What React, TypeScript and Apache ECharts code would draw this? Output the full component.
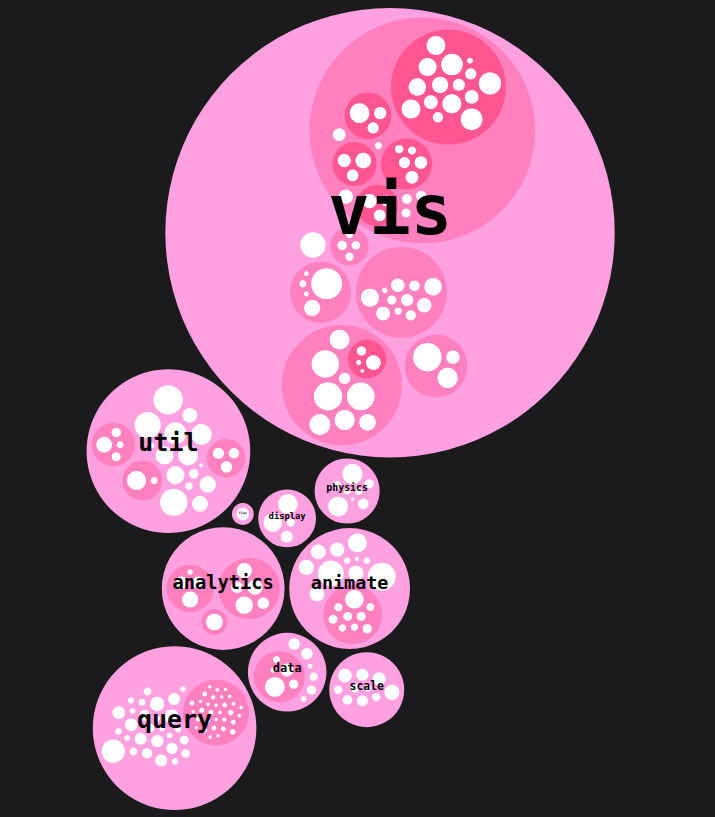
import React, { useEffect, useRef } from "react";
import * as echarts from "echarts";

type Item = [string, number | Item[]];

// ---------- data (flare hierarchy, in source order) ----------
const analyticsCluster: Item[] = [["AgglomerativeCluster", 3938], ["CommunityStructure", 3812], ["HierarchicalCluster", 6714], ["MergeEdge", 743]];
const analyticsGraph: Item[] = [["BetweennessCentrality", 3534], ["LinkDistance", 5731], ["MaxFlowMinCut", 7840], ["ShortestPaths", 5914], ["SpanningTree", 3416]];
const analyticsOptimization: Item[] = [["AspectRatioBanker", 7074]];
const analytics: Item[] = [["cluster", analyticsCluster], ["graph", analyticsGraph], ["optimization", analyticsOptimization]];

const animateInterpolate: Item[] = [["ArrayInterpolator", 1983], ["ColorInterpolator", 2047], ["DateInterpolator", 1375], ["Interpolator", 8746], ["MatrixInterpolator", 2202], ["NumberInterpolator", 1382], ["ObjectInterpolator", 1629], ["PointInterpolator", 1675], ["RectangleInterpolator", 2042]];
const animate: Item[] = [["Easing", 17010], ["FunctionSequence", 5842], ["interpolate", animateInterpolate], ["ISchedulable", 1041], ["Parallel", 5176], ["Pause", 449], ["Scheduler", 5593], ["Sequence", 5534], ["Transition", 9201], ["Transitioner", 19975], ["TransitionEvent", 1116], ["Tween", 6006]];

const dataConverters: Item[] = [["Converters", 721], ["DelimitedTextConverter", 4294], ["GraphMLConverter", 9800], ["IDataConverter", 1314], ["JSONConverter", 2220]];
const data: Item[] = [["converters", dataConverters], ["DataField", 1759], ["DataSchema", 2165], ["DataSet", 586], ["DataSource", 3331], ["DataTable", 772], ["DataUtil", 3322]];

const display: Item[] = [["DirtySprite", 8833], ["LineSprite", 1732], ["RectSprite", 3623], ["TextSprite", 10066]];
const flex: Item[] = [["FlareVis", 4116]];
const physics: Item[] = [["DragForce", 1082], ["GravityForce", 1336], ["IForce", 319], ["NBodyForce", 10498], ["Particle", 2822], ["Simulation", 9983], ["Spring", 2213], ["SpringForce", 1681]];

const queryMethods: Item[] = [["add", 593], ["and", 330], ["average", 287], ["count", 277], ["distinct", 292], ["div", 595], ["eq", 594], ["fn", 460], ["gt", 603], ["gte", 625], ["iff", 748], ["isa", 461], ["lt", 597], ["lte", 619], ["max", 283], ["min", 283], ["mod", 591], ["mul", 603], ["neq", 599], ["not", 386], ["or", 323], ["orderby", 307], ["range", 772], ["select", 296], ["stddev", 363], ["sub", 600], ["sum", 280], ["update", 307], ["variance", 335], ["where", 299], ["xor", 354], ["_", 264]];
const query: Item[] = [["AggregateExpression", 1616], ["And", 1027], ["Arithmetic", 3891], ["Average", 891], ["BinaryExpression", 2893], ["Comparison", 5103], ["CompositeExpression", 3677], ["Count", 781], ["DateUtil", 4141], ["Distinct", 933], ["Expression", 5130], ["ExpressionIterator", 3617], ["Fn", 3240], ["If", 2732], ["IsA", 2039], ["Literal", 1214], ["Match", 3748], ["Maximum", 843], ["methods", queryMethods], ["Minimum", 843], ["Not", 1554], ["Or", 970], ["Query", 13896], ["Range", 1594], ["StringUtil", 4130], ["Sum", 791], ["Variable", 1124], ["Variance", 1876], ["Xor", 1101]];

const scale: Item[] = [["IScaleMap", 2105], ["LinearScale", 1316], ["LogScale", 3151], ["OrdinalScale", 3770], ["QuantileScale", 2435], ["QuantitativeScale", 4839], ["RootScale", 1756], ["Scale", 4268], ["ScaleType", 1821], ["TimeScale", 5833]];

const utilHeap: Item[] = [["FibonacciHeap", 9354], ["HeapNode", 1233]];
const utilMath: Item[] = [["DenseMatrix", 3165], ["IMatrix", 2815], ["SparseMatrix", 3366]];
const utilPalette: Item[] = [["ColorPalette", 6367], ["Palette", 1229], ["ShapePalette", 2059], ["SizePalette", 2291]];
const util: Item[] = [["Arrays", 8258], ["Colors", 10001], ["Dates", 8217], ["Displays", 12555], ["Filter", 2324], ["Geometry", 10993], ["heap", utilHeap], ["IEvaluable", 335], ["IPredicate", 383], ["IValueProxy", 874], ["math", utilMath], ["Maths", 17705], ["Orientation", 1486], ["palette", utilPalette], ["Property", 5559], ["Shapes", 19118], ["Sort", 6887], ["Stats", 6557], ["Strings", 22026]];

const visAxis: Item[] = [["Axes", 1302], ["Axis", 24593], ["AxisGridLine", 652], ["AxisLabel", 636], ["CartesianAxes", 6703]];
const visControls: Item[] = [["AnchorControl", 2138], ["ClickControl", 3824], ["Control", 1353], ["ControlList", 4665], ["DragControl", 2649], ["ExpandControl", 2832], ["HoverControl", 4896], ["IControl", 763], ["PanZoomControl", 5222], ["SelectionControl", 7862], ["TooltipControl", 8435]];
const visDataRender: Item[] = [["ArrowType", 698], ["EdgeRenderer", 5569], ["IRenderer", 353], ["ShapeRenderer", 2247]];
const visData: Item[] = [["Data", 20544], ["DataList", 19788], ["DataSprite", 10349], ["EdgeSprite", 3301], ["NodeSprite", 19382], ["render", visDataRender], ["ScaleBinding", 11275], ["Tree", 7147], ["TreeBuilder", 9930]];
const visEvents: Item[] = [["DataEvent", 2313], ["SelectionEvent", 1880], ["TooltipEvent", 1701], ["VisualizationEvent", 1117]];
const visLegend: Item[] = [["Legend", 20859], ["LegendItem", 4614], ["LegendRange", 10530]];
const opDistortion: Item[] = [["BifocalDistortion", 4461], ["Distortion", 6314], ["FisheyeDistortion", 3444]];
const opEncoder: Item[] = [["ColorEncoder", 3179], ["Encoder", 4060], ["PropertyEncoder", 4138], ["ShapeEncoder", 1690], ["SizeEncoder", 1830]];
const opFilter: Item[] = [["FisheyeTreeFilter", 5219], ["GraphDistanceFilter", 3165], ["VisibilityFilter", 3509]];
const opLabel: Item[] = [["Labeler", 9956], ["RadialLabeler", 3899], ["StackedAreaLabeler", 3202]];
const opLayout: Item[] = [["AxisLayout", 6725], ["BundledEdgeRouter", 3727], ["CircleLayout", 9317], ["CirclePackingLayout", 12003], ["DendrogramLayout", 4853], ["ForceDirectedLayout", 8411], ["IcicleTreeLayout", 4864], ["IndentedTreeLayout", 3174], ["Layout", 7881], ["NodeLinkTreeLayout", 12870], ["PieLayout", 2728], ["RadialTreeLayout", 12348], ["RandomLayout", 870], ["StackedAreaLayout", 9121], ["TreeMapLayout", 9191]];
const visOperator: Item[] = [["distortion", opDistortion], ["encoder", opEncoder], ["filter", opFilter], ["IOperator", 1286], ["label", opLabel], ["layout", opLayout], ["Operator", 2490], ["OperatorList", 5248], ["OperatorSequence", 4190], ["OperatorSwitch", 2581], ["SortOperator", 2023]];
const vis: Item[] = [["axis", visAxis], ["controls", visControls], ["data", visData], ["events", visEvents], ["legend", visLegend], ["operator", visOperator], ["Visualization", 16540]];

const flare: Item[] = [["analytics", analytics], ["animate", animate], ["data", data], ["display", display], ["flex", flex], ["physics", physics], ["query", query], ["scale", scale], ["util", util], ["vis", vis]];

// ---------- styling / layout parameters ----------
const BG = "#1b1b1d";
const FILL_BY_DEPTH = [BG, "#ffa0e0", "#ff80bf", "#ff5590"];
const LEAF_FILL = "#ffffff";
const PACK_SIZE = 856;
const PADDING = 8;
const ROOT_CX = 310.8;
const ROOT_CY = 414.9;
const LABEL_RATIO = 0.305;

// ---------- circle packing (front-chain algorithm) ----------
interface PNode {
  name: string; value: number; depth: number;
  children: PNode[] | null; parent: PNode | null;
  x: number; y: number; r: number;
}

function build(name: string, content: number | Item[], depth: number, parent: PNode | null): PNode {
  const node: PNode = { name, value: 0, depth, children: null, parent, x: 0, y: 0, r: 0 };
  if (typeof content === "number") node.value = content;
  else {
    node.children = content.map(([n, c]) => build(n, c, depth + 1, node));
    node.value = node.children.reduce((s, c) => s + c.value, 0);
  }
  return node;
}
function eachBefore(n: PNode, f: (n: PNode) => void) { f(n); if (n.children) n.children.forEach((c) => eachBefore(c, f)); }
function eachAfter(n: PNode, f: (n: PNode) => void) { if (n.children) n.children.forEach((c) => eachAfter(c, f)); f(n); }

function place(b: any, a: any, c: any) {
  const dx = b.x - a.x, dy = b.y - a.y, d2 = dx * dx + dy * dy;
  let x, y, a2, b2;
  if (d2) {
    a2 = a.r + c.r; a2 *= a2;
    b2 = b.r + c.r; b2 *= b2;
    if (a2 > b2) {
      x = (d2 + b2 - a2) / (2 * d2);
      y = Math.sqrt(Math.max(0, b2 / d2 - x * x));
      c.x = b.x - x * dx - y * dy;
      c.y = b.y - x * dy + y * dx;
    } else {
      x = (d2 + a2 - b2) / (2 * d2);
      y = Math.sqrt(Math.max(0, a2 / d2 - x * x));
      c.x = a.x + x * dx - y * dy;
      c.y = a.y + x * dy + y * dx;
    }
  } else { c.x = a.x + c.r; c.y = a.y; }
}
function intersects(a: any, b: any) {
  const dr = a.r + b.r - 1e-6, dx = b.x - a.x, dy = b.y - a.y;
  return dr > 0 && dr * dr > dx * dx + dy * dy;
}
function score(node: any) {
  const a = node._, b = node.next._, ab = a.r + b.r;
  const dx = (a.x * b.r + b.x * a.r) / ab, dy = (a.y * b.r + b.y * a.r) / ab;
  return dx * dx + dy * dy;
}
function mk(c: any): any { return { _: c, next: null, previous: null }; }
function enclosesNot(a: any, b: any) { const dr = a.r - b.r, dx = b.x - a.x, dy = b.y - a.y; return dr < 0 || dr * dr < dx * dx + dy * dy; }
function enclosesWeak(a: any, b: any) { const dr = a.r - b.r + Math.max(a.r, b.r, 1) * 1e-9, dx = b.x - a.x, dy = b.y - a.y; return dr > 0 && dr * dr > dx * dx + dy * dy; }
function enclosesWeakAll(a: any, B: any[]) { for (let i = 0; i < B.length; ++i) if (!enclosesWeak(a, B[i])) return false; return true; }
function basis2(a: any, b: any) {
  const x21 = b.x - a.x, y21 = b.y - a.y, r21 = b.r - a.r, l = Math.sqrt(x21 * x21 + y21 * y21);
  return { x: (a.x + b.x + (x21 / l) * r21) / 2, y: (a.y + b.y + (y21 / l) * r21) / 2, r: (l + a.r + b.r) / 2 };
}
function basis3(a: any, b: any, c: any) {
  const x1 = a.x, y1 = a.y, r1 = a.r, x2 = b.x, y2 = b.y, r2 = b.r, x3 = c.x, y3 = c.y, r3 = c.r;
  const a2 = x1 - x2, a3 = x1 - x3, b2 = y1 - y2, b3 = y1 - y3, c2 = r2 - r1, c3 = r3 - r1;
  const d1 = x1 * x1 + y1 * y1 - r1 * r1, d2 = d1 - x2 * x2 - y2 * y2 + r2 * r2, d3 = d1 - x3 * x3 - y3 * y3 + r3 * r3;
  const ab = a3 * b2 - a2 * b3;
  const xa = (b2 * d3 - b3 * d2) / (ab * 2) - x1, xb = (b3 * c2 - b2 * c3) / ab;
  const ya = (a3 * d2 - a2 * d3) / (ab * 2) - y1, yb = (a2 * c3 - a3 * c2) / ab;
  const A = xb * xb + yb * yb - 1, B = 2 * (r1 + xa * xb + ya * yb), C = xa * xa + ya * ya - r1 * r1;
  const r = -(Math.abs(A) > 1e-6 ? (B + Math.sqrt(B * B - 4 * A * C)) / (2 * A) : C / B);
  return { x: x1 + xa + xb * r, y: y1 + ya + yb * r, r };
}
function encloseBasis(B: any[]) { if (B.length === 1) return { x: B[0].x, y: B[0].y, r: B[0].r }; if (B.length === 2) return basis2(B[0], B[1]); return basis3(B[0], B[1], B[2]); }
function extendBasis(B: any[], p: any): any[] {
  if (enclosesWeakAll(p, B)) return [p];
  for (let i = 0; i < B.length; ++i) if (enclosesNot(p, B[i]) && enclosesWeakAll(basis2(B[i], p), B)) return [B[i], p];
  for (let i = 0; i < B.length - 1; ++i) for (let j = i + 1; j < B.length; ++j)
    if (enclosesNot(basis2(B[i], B[j]), p) && enclosesNot(basis2(B[i], p), B[j]) && enclosesNot(basis2(B[j], p), B[i]) && enclosesWeakAll(basis3(B[i], B[j], p), B)) return [B[i], B[j], p];
  return [p];
}
function enclose(circles: any[]) {
  let i = 0, B: any[] = [], e: any = null, guard = 0;
  while (i < circles.length && guard++ < 100000) {
    const p = circles[i];
    if (e && enclosesWeak(e, p)) ++i; else { B = extendBasis(B, p); e = encloseBasis(B); i = 0; }
  }
  return e;
}
function packSiblings(circles: any[]): number {
  const n = circles.length;
  if (!n) return 0;
  let a: any, b: any, c: any, aa: number, ca: number, i: number, j: any, k: any, sj: number, sk: number;
  a = circles[0]; a.x = 0; a.y = 0;
  if (!(n > 1)) return a.r;
  b = circles[1]; a.x = -b.r; b.x = a.r; b.y = 0;
  if (!(n > 2)) return a.r + b.r;
  c = circles[2]; place(b, a, c);
  a = mk(a); b = mk(b); c = mk(c);
  a.next = b; c.previous = b; b.next = c; a.previous = c; c.next = a; b.previous = a;
  pack: for (i = 3; i < n; ++i) {
    c = circles[i]; place(a._, b._, c); c = mk(c);
    j = b.next; k = a.previous; sj = b._.r; sk = a._.r;
    do {
      if (sj <= sk) {
        if (intersects(j._, c._)) { b = j; a.next = b; b.previous = a; --i; continue pack; }
        sj += j._.r; j = j.next;
      } else {
        if (intersects(k._, c._)) { a = k; a.next = b; b.previous = a; --i; continue pack; }
        sk += k._.r; k = k.previous;
      }
    } while (j !== k.next);
    c.previous = a; c.next = b; a.next = c; b.previous = c; b = c;
    aa = score(a);
    while ((c = c.next) !== b) { if ((ca = score(c)) < aa) { a = c; aa = ca; } }
    b = a.next;
  }
  const front: any[] = [b._]; c = b;
  while ((c = c.next) !== b) front.push(c._);
  const e = enclose(front);
  for (i = 0; i < n; ++i) { circles[i].x -= e.x; circles[i].y -= e.y; }
  return e.r;
}
function packChildren(pad: number, k: number) {
  return (node: PNode) => {
    const ch = node.children;
    if (ch) {
      const r = pad * k;
      if (r) ch.forEach((c) => { c.r += r; });
      const e = packSiblings(ch);
      if (r) ch.forEach((c) => { c.r -= r; });
      node.r = e + r;
    }
  };
}
function packLayout(root: PNode, size: number, pad: number) {
  root.x = size / 2; root.y = size / 2;
  eachBefore(root, (n) => { if (!n.children) n.r = Math.sqrt(n.value); });
  eachAfter(root, packChildren(0, 1));
  eachAfter(root, packChildren(pad, root.r / size));
  const k = size / (2 * root.r);
  eachBefore(root, (n) => { n.r *= k; if (n.parent) { n.x = n.parent.x + k * n.x; n.y = n.parent.y + k * n.y; } });
}

function makeSeriesData() {
  const root = build("flare", flare, 0, null);
  packLayout(root, PACK_SIZE, PADDING);
  const out: any[] = [];
  eachBefore(root, (n) => {
    if (n.depth === 0) return;
    out.push({ name: n.name, value: [n.x - PACK_SIZE / 2 + ROOT_CX, n.y - PACK_SIZE / 2 + ROOT_CY, n.r, n.depth, n.children ? 0 : 1] });
  });
  return out;
}

export default function App() {
  const ref = useRef<HTMLDivElement>(null);
  useEffect(() => {
    if (!ref.current) return;
    const chart = echarts.init(ref.current, undefined, { renderer: "svg" });
    const seriesData = makeSeriesData();
    chart.setOption({
      animation: false,
      backgroundColor: BG,
      series: [{
        type: "custom",
        coordinateSystem: "none",
        data: seriesData,
        renderItem: (params: any, api: any) => {
          const cx = api.value(0), cy = api.value(1), r = api.value(2);
          const depth = api.value(3), isLeaf = api.value(4) === 1;
          const fill = isLeaf ? LEAF_FILL : FILL_BY_DEPTH[Math.min(depth, FILL_BY_DEPTH.length - 1)];
          const children: any[] = [{ type: "circle", shape: { cx, cy, r }, style: { fill }, z2: depth }];
          if (depth === 1) {
            const fs = r * LABEL_RATIO;
            children.push({
              type: "text", x: cx, y: cy - fs * 0.33, z2: 100,
              style: {
                text: seriesData[params.dataIndex].name, fontSize: fs,
                fontFamily: "'DejaVu Sans Mono', monospace", fontWeight: "bold",
                fill: "#000", align: "center", verticalAlign: "middle",
              },
            });
          }
          return { type: "group", children };
        },
      }],
    });
    return () => chart.dispose();
  }, []);
  return <div ref={ref} style={{ position: "fixed", left: 0, top: 0, width: 715, height: 817 }} />;
}
